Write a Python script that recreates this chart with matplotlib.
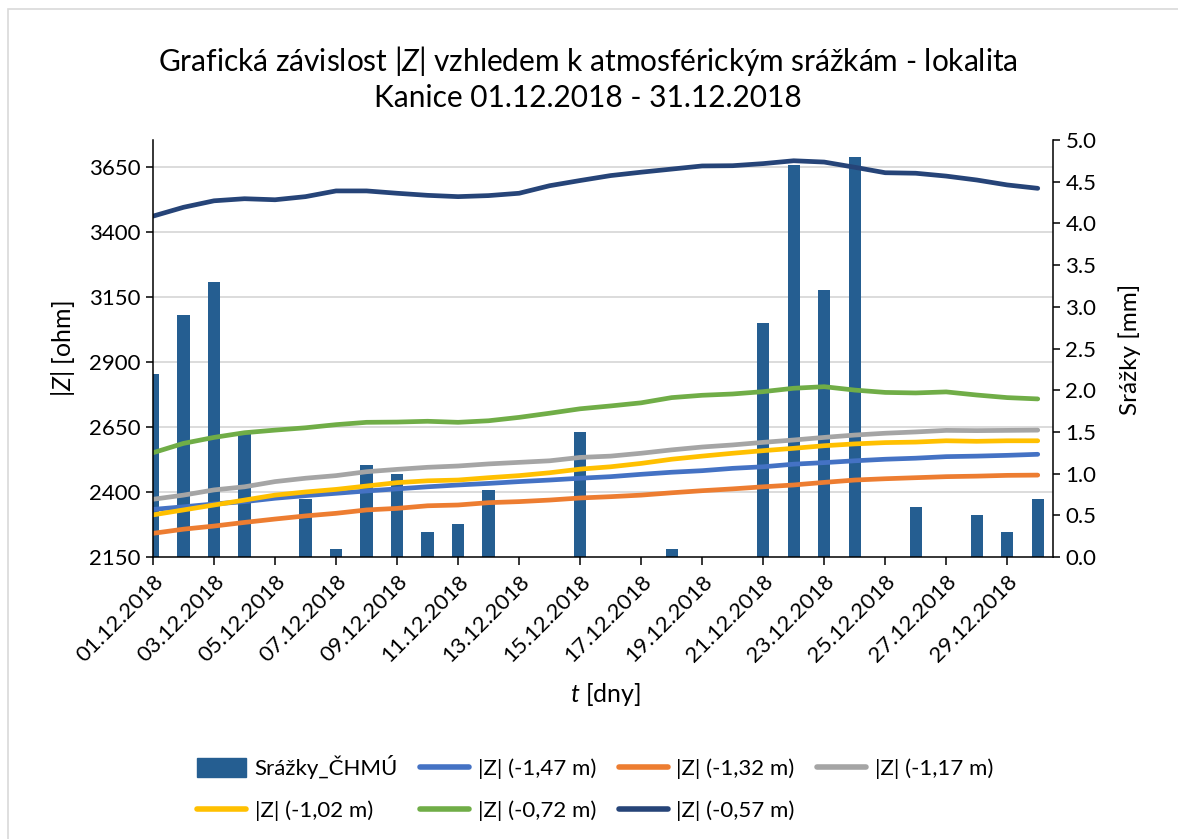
import matplotlib
matplotlib.use("Agg")
import matplotlib.pyplot as plt
from matplotlib.patches import Rectangle, Patch
from matplotlib.lines import Line2D
from matplotlib.transforms import blended_transform_factory

plt.rcParams['font.family'] = ['Lato', 'DejaVu Sans']
plt.rcParams['mathtext.fontset'] = 'custom'
plt.rcParams['mathtext.rm'] = 'Lato'
plt.rcParams['mathtext.it'] = 'Lato:italic'

dates = ["01.12.2018", "02.12.2018", "03.12.2018", "04.12.2018", "05.12.2018",
         "06.12.2018", "07.12.2018", "08.12.2018", "09.12.2018", "10.12.2018",
         "11.12.2018", "12.12.2018", "13.12.2018", "14.12.2018", "15.12.2018",
         "16.12.2018", "17.12.2018", "18.12.2018", "19.12.2018", "20.12.2018",
         "21.12.2018", "22.12.2018", "23.12.2018", "24.12.2018", "25.12.2018",
         "26.12.2018", "27.12.2018", "28.12.2018", "29.12.2018", "30.12.2018"]

srazky = [2.2, 2.9, 3.3, 1.5, 0.0, 0.7, 0.1, 1.1, 1.0, 0.3,
          0.4, 0.8, 0.0, 0.0, 1.5, 0.0, 0.0, 0.1, 0.0, 0.0,
          2.8, 4.7, 3.2, 4.8, 0.0, 0.6, 0.0, 0.5, 0.3, 0.7]

z_147 = [2333, 2343, 2354, 2363, 2376, 2386, 2395, 2404, 2412, 2420,
         2427, 2433, 2440, 2446, 2453, 2459, 2468, 2476, 2482, 2491,
         2497, 2507, 2513, 2520, 2526, 2530, 2536, 2538, 2541, 2545]
z_132 = [2241, 2257, 2269, 2283, 2296, 2308, 2318, 2331, 2337, 2347,
         2350, 2359, 2363, 2369, 2377, 2382, 2388, 2397, 2405, 2412,
         2420, 2427, 2437, 2446, 2451, 2455, 2459, 2461, 2464, 2465]
z_117 = [2372, 2388, 2408, 2420, 2440, 2453, 2463, 2478, 2487, 2495,
         2500, 2508, 2514, 2520, 2533, 2538, 2549, 2562, 2573, 2581,
         2591, 2600, 2610, 2619, 2626, 2631, 2637, 2636, 2637, 2638]
z_102 = [2312, 2331, 2350, 2369, 2388, 2400, 2410, 2423, 2436, 2443,
         2446, 2455, 2463, 2474, 2488, 2497, 2510, 2526, 2538, 2549,
         2559, 2568, 2578, 2585, 2590, 2592, 2597, 2595, 2597, 2597]
z_072 = [2551, 2587, 2610, 2628, 2638, 2647, 2659, 2668, 2669, 2672,
         2668, 2674, 2687, 2703, 2720, 2731, 2743, 2763, 2772, 2777,
         2786, 2799, 2805, 2792, 2783, 2781, 2785, 2773, 2763, 2758]
z_057 = [3461, 3495, 3520, 3528, 3524, 3536, 3558, 3558, 3549, 3541,
         3536, 3540, 3549, 3578, 3598, 3617, 3630, 3642, 3654, 3655,
         3663, 3674, 3669, 3649, 3628, 3626, 3615, 3600, 3581, 3568]

series = [
    ("|Z| (-1,47 m)", z_147, "#4472C4"),
    ("|Z| (-1,32 m)", z_132, "#ED7D31"),
    ("|Z| (-1,17 m)", z_117, "#A5A5A5"),
    ("|Z| (-1,02 m)", z_102, "#FFC000"),
    ("|Z| (-0,72 m)", z_072, "#70AD47"),
    ("|Z| (-0,57 m)", z_057, "#264478"),
]
bar_color = "#255E91"
left_ticks = [2150, 2400, 2650, 2900, 3150, 3400, 3650]
right_ticks = [0.0, 0.5, 1.0, 1.5, 2.0, 2.5, 3.0, 3.5, 4.0, 4.5, 5.0]

fig = plt.figure(figsize=(11.78, 8.39), dpi=100)
fig.patches.append(Rectangle((8/1178, -0.2), 1.2, 1.2 - 9/839, transform=fig.transFigure,
                             fill=False, edgecolor="#D9D9D9", linewidth=1.2))

ax = fig.add_axes([153/1178, 1 - 557/839, 900/1178, 417/839])
ax2 = ax.twinx()
ax.set_zorder(2)
ax2.set_zorder(1)
ax.patch.set_visible(False)

x = list(range(len(dates)))

# gridlines (aligned with left axis ticks), drawn behind bars
gtrans = blended_transform_factory(ax2.transAxes, ax.transData)
for v in left_ticks[1:]:
    ax2.plot([0, 1], [v, v], transform=gtrans, color="#D9D9D9", lw=1.3, zorder=0)

ax2.bar(x, srazky, width=0.4, color=bar_color, zorder=2)

for label, vals, col in series:
    ax.plot(x, vals, color=col, lw=3.4, solid_capstyle='round', solid_joinstyle='round')

ax.set_xlim(0, 29.5)
ax.set_ylim(2150, 2150 + 417 * 250 / 65)
ax2.set_ylim(0, 5.0)

ax.set_yticks(left_ticks)
ax.set_yticklabels([str(t) for t in left_ticks])
ax2.set_yticks(right_ticks)
ax2.set_yticklabels([f"{t:.1f}" for t in right_ticks])

ax.set_xticks(x[::2])
ax.set_xticklabels(dates[::2], rotation=45, ha='right', va='top', rotation_mode='anchor')

for a in (ax, ax2):
    a.spines['top'].set_visible(False)
    for s in a.spines.values():
        s.set_linewidth(1.1)
        s.set_color("#000000")
ax.spines['right'].set_visible(False)
ax2.spines['left'].set_visible(False)
ax2.spines['bottom'].set_visible(False)

ax.tick_params(axis='y', direction='out', length=5, width=1.1, labelsize=16, pad=4)
ax.tick_params(axis='x', direction='out', length=6, width=1.1, labelsize=16, pad=4)
ax2.tick_params(axis='y', direction='out', length=5, width=1.1, labelsize=16, pad=4)

fig.text(588/1178, 1 - 78/839,
         "Grafická závislost |$Z$| vzhledem k atmosférickým srážkám - lokalita\nKanice 01.12.2018 - 31.12.2018",
         ha='center', va='center', fontsize=21.5, linespacing=1.25)
fig.text(63/1178, 1 - 349/839, "|$Z$| [ohm]", rotation=90, ha='center', va='center', fontsize=18)
fig.text(1130/1178, 1 - 349/839, "Srážky [mm]", rotation=90, ha='center', va='center', fontsize=17.5)
fig.text(606/1178, 1 - 695/839, "$t$ [dny]", ha='center', va='center', fontsize=18)

handles = [Patch(facecolor=bar_color, edgecolor=bar_color)]
labels = ["Srážky_ČHMÚ"]
for label, vals, col in series:
    handles.append(Line2D([0], [0], color=col, lw=4, solid_capstyle='round'))
    labels.append(label)
# order so rows fill: row1 = items 0..3, row2 = items 4..6
order = [0, 4, 1, 5, 2, 6, 3]
fig.legend([handles[i] for i in order], [labels[i] for i in order], ncol=4,
           loc='center', bbox_to_anchor=(595/1178, 1 - 788/839), frameon=False,
           fontsize=16, handlelength=2.2, handleheight=0.9, handletextpad=0.4,
           columnspacing=1.0, labelspacing=0.95)

fig.savefig("out.png", dpi=100)
